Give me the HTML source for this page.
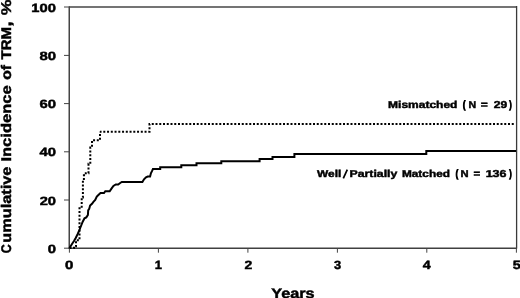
<!DOCTYPE html>
<html>
<head>
<meta charset="utf-8">
<style>
html,body{margin:0;padding:0;background:#fff;width:520px;height:298px;overflow:hidden;}
svg{display:block;will-change:transform;}
text{text-rendering:geometricPrecision;font-family:"Liberation Sans",sans-serif;font-weight:bold;fill:#000;stroke:#000;stroke-width:0.45px;}
</style>
</head>
<body>
<svg width="520" height="298" viewBox="0 0 520 298">
<rect x="0" y="0" width="520" height="298" fill="#fff"/>
<!-- frame -->
<path d="M69,7 H516.5" fill="none" stroke="#747474" stroke-width="2"/>
<path d="M516.6,6 V248.6" fill="none" stroke="#3a3a3a" stroke-width="1.3"/>
<!-- axes -->
<path d="M69.25,6.4 V248.9" fill="none" stroke="#444" stroke-width="1.5"/>
<path d="M68.5,248.3 H517" fill="none" stroke="#404040" stroke-width="1.4"/>
<!-- y ticks -->
<path d="M64,7 H69.5 M64,55.4 H69.5 M64,103.6 H69.5 M64,151.8 H69.5 M64,200 H69.5 M64,248.2 H69.5" stroke="#444" stroke-width="1"/>
<!-- x ticks -->
<path d="M69.4,248 V252.7 M158.4,248 V252.7 M247.9,248 V252.7 M337.4,248 V252.7 M426.8,248 V252.7 M516.4,248 V252.7" stroke="#444" stroke-width="1"/>

<text x="31.29" y="11.65" font-size="12" textLength="24.56" lengthAdjust="spacingAndGlyphs">100</text>
<text x="39.49" y="60.05" font-size="12" textLength="16.56" lengthAdjust="spacingAndGlyphs">80</text>
<text x="39.49" y="108.25" font-size="12" textLength="16.56" lengthAdjust="spacingAndGlyphs">60</text>
<text x="39.6" y="156.45" font-size="12" textLength="16.44" lengthAdjust="spacingAndGlyphs">40</text>
<text x="39.69" y="204.65" font-size="12" textLength="16.35" lengthAdjust="spacingAndGlyphs">20</text>
<text x="47.69" y="252.65" font-size="12" textLength="8.24" lengthAdjust="spacingAndGlyphs">0</text>
<text x="65.09" y="268.5" font-size="12" textLength="8.35" lengthAdjust="spacingAndGlyphs">0</text>
<text x="154.66" y="268.5" font-size="12" textLength="7.24" lengthAdjust="spacingAndGlyphs">1</text>
<text x="244.51" y="268.5" font-size="12" textLength="7.81" lengthAdjust="spacingAndGlyphs">2</text>
<text x="334.1" y="268.5" font-size="12" textLength="7.2" lengthAdjust="spacingAndGlyphs">3</text>
<text x="422.8" y="268.5" font-size="12" textLength="7.93" lengthAdjust="spacingAndGlyphs">4</text>
<text x="512.8" y="268.5" font-size="12" textLength="8.03" lengthAdjust="spacingAndGlyphs">5</text>
<text x="271.2" y="297.5" font-size="14" textLength="43.44" lengthAdjust="spacingAndGlyphs">Years</text>
<text transform="translate(10.6,298) rotate(-90)" x="44.68" y="0" font-size="14" textLength="9.03" lengthAdjust="spacingAndGlyphs">C</text>
<text transform="translate(10.6,298) rotate(-90)" x="55.33" y="0" font-size="14" textLength="75.99" lengthAdjust="spacingAndGlyphs">umulative</text>
<text transform="translate(10.6,298) rotate(-90)" x="136.41" y="0" font-size="14" textLength="76.29" lengthAdjust="spacingAndGlyphs">Incidence</text>
<text transform="translate(10.6,298) rotate(-90)" x="218.32" y="0" font-size="14" textLength="14.77" lengthAdjust="spacingAndGlyphs">of</text>
<text transform="translate(10.6,298) rotate(-90)" x="238.6" y="0" font-size="14" textLength="32.52" lengthAdjust="spacingAndGlyphs">TRM</text>
<text transform="translate(10.6,298) rotate(-90)" x="271.9" y="0" font-size="14" style="stroke-width:1.0px" textLength="4.11" lengthAdjust="spacingAndGlyphs">,</text>
<text transform="translate(10.6,298) rotate(-90)" x="282.7" y="0" font-size="14" textLength="15.76" lengthAdjust="spacingAndGlyphs">%</text>
<text x="388.1" y="107.9" font-size="10.0" textLength="69.36" lengthAdjust="spacingAndGlyphs">Mismatched</text>
<text x="463.07" y="107.9" font-size="10.0" style="stroke-width:1.3px" textLength="2.25" lengthAdjust="spacingAndGlyphs">(</text>
<text x="468.47" y="107.9" font-size="10.0" textLength="7.64" lengthAdjust="spacingAndGlyphs">N</text>
<text x="480.8" y="107.9" font-size="10.0" textLength="7.01" lengthAdjust="spacingAndGlyphs">=</text>
<text x="493.8" y="107.9" font-size="10.0" textLength="13.45" lengthAdjust="spacingAndGlyphs">29</text>
<text x="509.59" y="107.9" font-size="10.0" style="stroke-width:1.3px" textLength="2.11" lengthAdjust="spacingAndGlyphs">)</text>
<text x="317.1" y="177.0" font-size="10.0" textLength="24.17" lengthAdjust="spacingAndGlyphs">Well</text>
<text x="349.59" y="177.0" font-size="10.0" textLength="47.71" lengthAdjust="spacingAndGlyphs">Partially</text>
<text x="401.91" y="177.0" font-size="10.0" textLength="48.06" lengthAdjust="spacingAndGlyphs">Matched</text>
<text x="455.67" y="177.0" font-size="10.0" style="stroke-width:1.3px" textLength="2.25" lengthAdjust="spacingAndGlyphs">(</text>
<text x="460.54" y="177.0" font-size="10.0" textLength="8.1" lengthAdjust="spacingAndGlyphs">N</text>
<text x="473.41" y="177.0" font-size="10.0" textLength="6.69" lengthAdjust="spacingAndGlyphs">=</text>
<text x="485.68" y="177.0" font-size="10.0" textLength="20.86" lengthAdjust="spacingAndGlyphs">136</text>
<text x="509.59" y="177.0" font-size="10.0" style="stroke-width:1.3px" textLength="2.11" lengthAdjust="spacingAndGlyphs">)</text>
<path d="M347.3,169.6 L343.3,178.4" stroke="#000" stroke-width="1.7" stroke-linecap="butt"/>

<!-- solid curve -->
<path fill="none" stroke="#000" stroke-width="2" stroke-linejoin="miter"
d="M69.5,248 L72,244 L74,241 L75.7,238 L77.7,234 L79.5,230 L80.2,228 L81.4,225 L82.6,222 L84.5,218.3 L86.3,217.4 L87.9,215 L88.2,210.3 L89.2,208.9 L90.1,205.6 L92,203.8 L93.4,201.9 L95.2,200 L96.8,196.6 L98.4,195 L100.5,193 H104 L105.3,191.2 H109.7 L111.3,188.9 L113.4,186 L115.8,184.5 H118.2 L120.2,183 L121.8,182 H142.4 L144,179.3 L146,177.3 L147.7,176.5 H150.1 L150.9,173.3 L152.1,170.9 L152.9,169.1 H160.2 V167.3 H181.3 V165.3 H196.5 V163.3 H221.3 V161.3 H259.6 V159 H272.5 V157 H294.4 V154 H426.3 V151 H516"/>

<!-- dotted curve -->
<path fill="none" stroke="#000" stroke-width="2" stroke-dasharray="2 1.75"
d="M69.5,248 H74 V246.2 H76 V240.3 H79.5 V208.3 H81.7 V197.5 H82.9 V180.5 H83.9 V175.3 H85.8 V173.2 H88.5 V163.8 H90.3 V147.5 H92 V140.3 H100 V131.8"/>
<path fill="none" stroke="#000" stroke-width="2" stroke-dasharray="2 1.75" stroke-dashoffset="0.45"
d="M100,131.8 H149.5 V124 H514.6"/>
</svg>
</body>
</html>
